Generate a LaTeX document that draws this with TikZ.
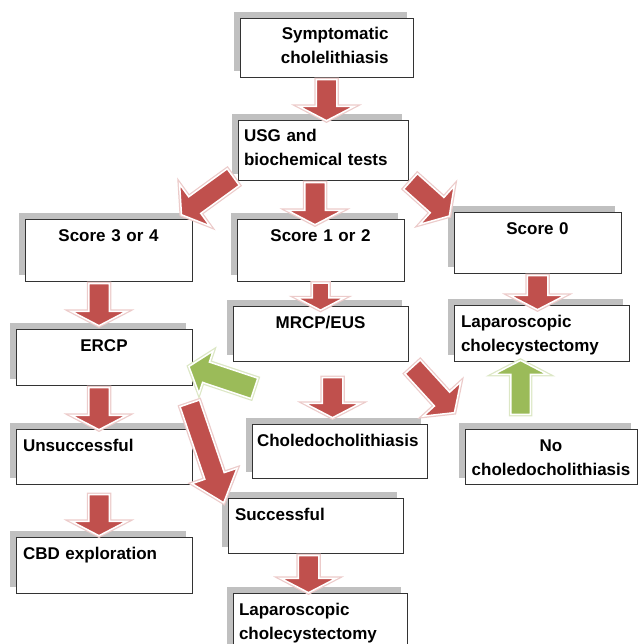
\documentclass[tikz,border=0pt]{standalone}
\usepackage{fontspec}
\setmainfont{Liberation Sans}
\usetikzlibrary{shapes.arrows, shadows, calc}
\definecolor{flowred}{HTML}{C0504D}
\definecolor{flowgreen}{HTML}{9BBB59}
\definecolor{flowshadow}{HTML}{C0C0C0}

\begin{document}
\begin{tikzpicture}[
		x=1pt, y=-1pt,
		box/.style={draw=black!80, line width=0.8pt, fill=white, inner xsep=#1,
			inner ysep=0pt, text height=22pt, align=left,
			font=\fontsize{17}{24}\selectfont\bfseries,
			drop shadow={shadow xshift=-6.5pt, shadow yshift=6pt, fill=flowshadow, opacity=1}},
		box/.default=7pt,
		cbox/.style={box=#1, align=center},
		cbox/.default=7pt,
		fat/.style={single arrow, sloped, allow upside down, draw=white, line width=1.5pt,
			inner xsep=0pt, inner ysep=9.5pt, outer sep=0pt, minimum height=#1,
			single arrow head extend=17pt, single arrow tip angle=125},
		redarr/.style={fat=#1, fill=flowred, preaction={draw=flowred!30, line width=4pt}},
		greenarr/.style={fat=#1, fill=flowgreen, preaction={draw=flowgreen!35, line width=4pt}}
	]
	\useasboundingbox (0,0) rectangle (638,644);
	\clip (0,0) rectangle (638,644);
	
	\node[box=24.5pt, align=right, text width=124pt, text depth=37pt] (symp) at (326.5,47.5) {Symptomatic\\cholelithiasis};
	\node[box=6pt, text width=158pt, text depth=38pt] (usg) at (323,150) {USG and\\biochemical tests};
	\node[cbox, text width=153pt, text depth=40pt] (s34) at (108.5,250) {Score 3 or 4};
	\node[cbox, text width=153pt, text depth=40pt] (s12) at (320.5,250) {Score 1 or 2};
	\node[cbox, text width=153pt, text depth=39pt] (s0) at (537.5,242.5) {Score 0};
	\node[cbox, text width=162pt, text depth=34pt] (ercp) at (104,357) {ERCP};
	\node[cbox, text width=161pt, text depth=33pt] (mrcp) at (320.5,333.5) {MRCP/EUS};
	\node[box, text width=161pt, text depth=34pt] (lapr) at (541.5,333) {Laparoscopic\\cholecystectomy};
	\node[box, text width=162pt, text depth=33pt] (unsucc) at (104,456.5) {Unsuccessful};
	\node[box=5pt, text width=165pt, text depth=32pt] (choledo) at (339.5,451) {Choledocholithiasis};
	\node[cbox=5pt, text width=162pt, text depth=33pt] (nochol) at (551,456.5) {No\\choledocholithiasis};
	\node[box, text width=162pt, text depth=34pt] (cbd) at (104,565) {CBD exploration};
	\node[box, text width=161pt, text depth=33pt] (succ) at (315.5,525.5) {Successful};
	\node[box=6pt, text width=162pt, text depth=37pt] (lapb) at (320,622.5) {Laparoscopic\\cholecystectomy};
	
	\path (symp.south) -- node[redarr=41] {} ($(symp.south |- usg.north)+(0,-2)$);
	\path ($(usg.south west)+(-2,-5)$) -- node[redarr=64, single arrow head extend=15.5pt, single arrow tip angle=115] {} ($(s34.north east)+(-8,-6)$);
	\path ($(usg.south)+(-8,0)$) -- node[redarr=42] {} ($(s12.north)+(-5.5,3)$);
	\path ($(usg.south east)+(0,-1)$) -- node[redarr=52, single arrow head extend=15.5pt, single arrow tip angle=115] {} ($(s0.north west)+(-7,2)$);
	\path ($(s34.south)+(-9.5,0)$) -- node[redarr=42] {} ($(ercp.north)+(-5,-6)$);
	\path (s12.south) -- node[redarr=27, inner ysep=7.5pt, single arrow head extend=15.5pt] {} ($(mrcp.north)+(0,2)$);
	\path (s0.south) -- node[redarr=34] {} ($(s0.south |- lapr.north)+(0,2)$);
	\path ($(ercp.south)+(-5,0)$) -- node[redarr=42] {} ($(unsucc.north)+(-5,-2)$);
	\path ($(unsucc.south)+(-5,8)$) -- node[redarr=41] {} ($(cbd.north)+(-5,-4)$);
	\path ($(mrcp.south)+(12,14)$) -- node[redarr=40] {} ($(choledo.north)+(-7,-9)$);
	\path ($(mrcp.south east)+(2,3)$) -- node[redarr=62, single arrow head extend=15pt, single arrow tip angle=108] {} ($(nochol.north west)+(-13,-19)$);
	\path ($(ercp.south east)+(-4.5,12.5)$) -- node[redarr=105, single arrow head extend=13.5pt, single arrow tip angle=80] {} ($(succ.north west)+(-6,-1)$);
	\path ($(succ.south)+(-7,0)$) -- node[redarr=37] {} ($(lapb.north)+(-11.5,-3)$);
	\path ($(choledo.north west)+(6.5,-34)$) -- node[greenarr=69, inner ysep=10pt, single arrow head extend=11.5pt, single arrow tip angle=102] {} ($(ercp.east)+(1,11)$);
	\path ($(nochol.north)+(-30.5,-12)$) -- node[greenarr=54, inner ysep=9pt] {} ($(lapr.south)+(-21,2)$);
\end{tikzpicture}
\end{document}
